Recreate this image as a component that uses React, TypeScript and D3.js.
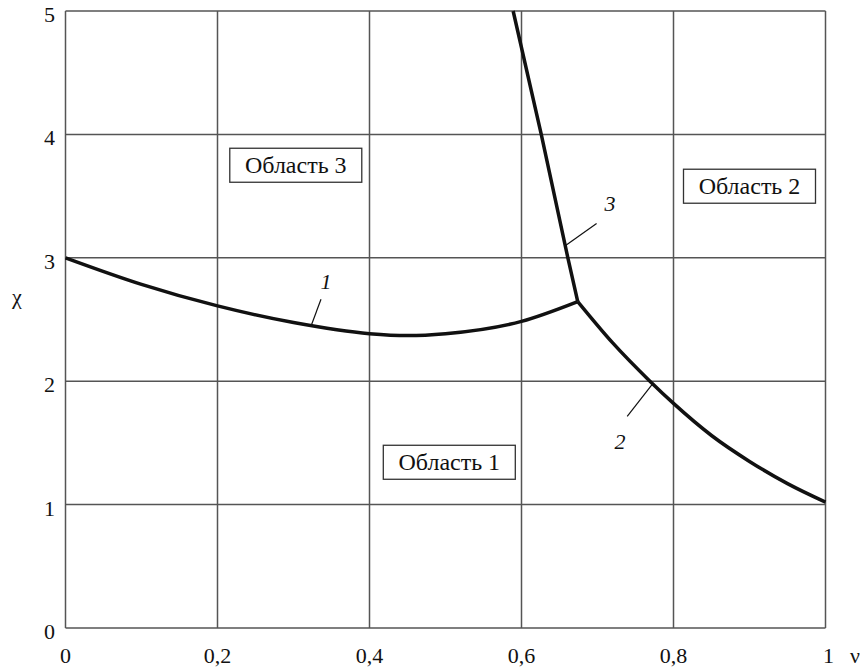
import React from "react";
import * as d3 from "d3";

const curve1Nu = [0, 0.1, 0.2, 0.3, 0.4, 0.45, 0.5, 0.6, 0.674];
const curve1Chi = [3.0, 2.785, 2.61, 2.475, 2.385, 2.37, 2.385, 2.485, 2.645];

const curve2Nu = [0.674, 0.72, 0.769, 0.8, 0.85, 0.9, 0.95, 1.0];
const curve2Chi = [2.645, 2.31, 2.0, 1.82, 1.56, 1.35, 1.17, 1.02];

const curve3Nu = [0.674, 0.661, 0.626, 0.589];
const curve3Chi = [2.645, 3.0, 4.0, 5.0];

const xTicks = [0, 0.2, 0.4, 0.6, 0.8, 1];
const xTickLabels = ["0", "0,2", "0,4", "0,6", "0,8", "1"];
const yTicks = [0, 1, 2, 3, 4, 5];
const yTickLabels = ["0", "1", "2", "3", "4", "5"];

const regionNames = ["Область 3", "Область 2", "Область 1"];
const regionNu = [0.303, 0.9, 0.505];
const regionChi = [3.75, 3.58, 1.343];

const curveLabels = ["1", "2", "3"];

const W = 866;
const H = 670;
const CSS = `
html body svg#chart text, html body svg#chart text.lbl, #root svg text {
  font-family: "Liberation Serif", "Times New Roman", Tinos, serif !important;
}
`;

export default function App() {
  const x = d3.scaleLinear().domain([0, 1]).range([65.5, 825.5]);
  const y = d3.scaleLinear().domain([0, 5]).range([628, 11]);

  const mk = (nu: number[], chi: number[], curve: any) =>
    d3
      .line<number>()
      .x((_, i) => x(nu[i]))
      .y((_, i) => y(chi[i]))
      .curve(curve)(nu) as string;

  const p1 = mk(curve1Nu, curve1Chi, d3.curveMonotoneX);
  const p2 = mk(curve2Nu, curve2Chi, d3.curveMonotoneX);
  const p3 = mk(curve3Nu, curve3Chi, d3.curveLinear);

  const gridColor = "#555";
  const boxW = 132;
  const boxH = 34;

  const leaders = [
    { label: curveLabels[0], x1: x(0.323), y1: y(2.445), dx: 10, dy: -27, tx: 326, ty: 289 },
    { label: curveLabels[1], x1: x(0.772), y1: y(1.975), dx: -25, dy: 32, tx: 620, ty: 449 },
    { label: curveLabels[2], x1: x(0.658), y1: y(3.1), dx: 31, dy: -22, tx: 610, ty: 211 },
  ];

  const ff = { fontFamily: "Liberation Serif" };

  return (
    <div style={{ fontFamily: "Liberation Serif" }}>
      <style>{CSS}</style>
      <svg id="chart" width={W} height={H} style={{ position: "absolute", left: 0, top: 0, fontFamily: "Liberation Serif" }}>
        <rect x={0} y={0} width={W} height={H} fill="#fff" />
        {xTicks.map((t) => (
          <line key={"gx" + t} x1={x(t)} x2={x(t)} y1={y(0)} y2={y(5)} stroke={gridColor} strokeWidth={1.5} />
        ))}
        {yTicks.map((t) => (
          <line key={"gy" + t} x1={x(0)} x2={x(1)} y1={y(t)} y2={y(t)} stroke={gridColor} strokeWidth={1.5} />
        ))}
        {xTicks.map((t, i) => (
          <text key={"tx" + t} className="lbl" style={ff} x={x(t) + (i === xTicks.length - 1 ? 3 : 0)} y={663} fontSize={22} textAnchor="middle" fill="#111">
            {xTickLabels[i]}
          </text>
        ))}
        {yTicks.map((t, i) => (
          <text key={"ty" + t} className="lbl" style={ff} x={55} y={y(t) + 11} fontSize={22} textAnchor="end" fill="#111">
            {yTickLabels[i]}
          </text>
        ))}
        <text className="lbl" style={ff} x={855} y={663} fontSize={22} textAnchor="middle" fill="#111">ν</text>
        <text className="lbl" style={ff} x={17} y={304} fontSize={22} textAnchor="middle" fill="#111">χ</text>

        {regionNames.map((n, i) => (
          <g key={n}>
            <rect
              x={x(regionNu[i]) - boxW / 2}
              y={y(regionChi[i]) - boxH / 2}
              width={boxW}
              height={boxH}
              fill="#fff"
              stroke="#333"
              strokeWidth={1.3}
            />
            <text className="lbl" style={ff} x={x(regionNu[i])} y={y(regionChi[i]) + 8} fontSize={24} textAnchor="middle" fill="#111">
              {n}
            </text>
          </g>
        ))}

        <path d={p1} fill="none" stroke="#111" strokeWidth={3.5} />
        <path d={p2} fill="none" stroke="#111" strokeWidth={3.5} />
        <path d={p3} fill="none" stroke="#111" strokeWidth={3.5} />

        {leaders.map((l) => (
          <g key={l.label}>
            <line x1={l.x1} y1={l.y1} x2={l.x1 + l.dx} y2={l.y1 + l.dy} stroke="#111" strokeWidth={1.2} />
            <text className="lbl" style={ff} x={l.tx} y={l.ty} fontSize={22} fontStyle="italic" textAnchor="middle" fill="#111">
              {l.label}
            </text>
          </g>
        ))}
      </svg>
    </div>
  );
}
